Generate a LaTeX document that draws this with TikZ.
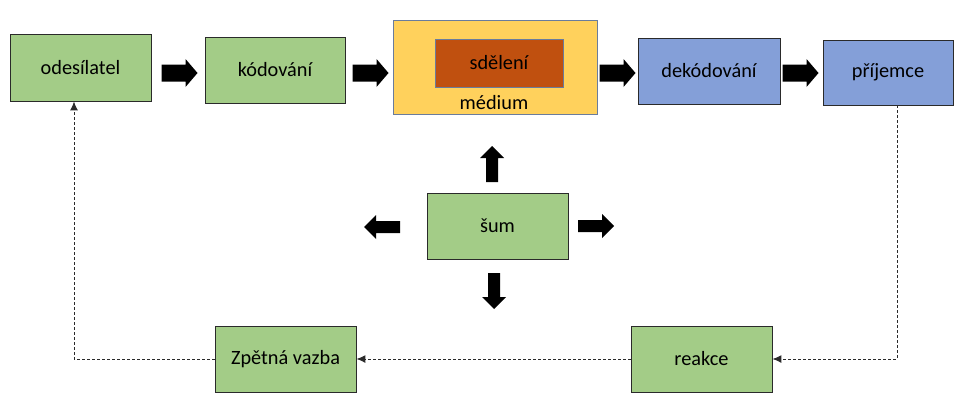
\documentclass[tikz,border=0pt]{standalone}
\usepackage{fontspec}
\setmainfont{Carlito}
\usetikzlibrary{arrows.meta}
\definecolor{boxgreen}{HTML}{A3CC87}
\definecolor{boxblue}{HTML}{849FD8}
\definecolor{boxyellow}{HTML}{FFD15C}
\definecolor{boxbrown}{HTML}{C0500F}
\definecolor{edgegray}{HTML}{2A2A2A}
\definecolor{edgeblue}{HTML}{6A7C9C}
\tikzset{
  box/.style={draw=edgegray, line width=0.9pt, minimum width=141pt, minimum height=66pt, inner sep=0pt, font=\fontsize{20.3}{24}\selectfont},
  greenbox/.style={box, fill=boxgreen},
  bluebox/.style={box, fill=boxblue},
  fb/.style={draw=edgegray, line width=1pt, dash pattern=on 3pt off 2pt, -{Latex[length=9pt,width=8pt]}},
  bigarrow/.pic={\fill[black] (-18,-8.5) -- (6,-8.5) -- (6,-14) -- (18,0) -- (6,14) -- (6,8.5) -- (-18,8.5) -- cycle;},
  smallarrow/.pic={\fill[black] (-18,-6) -- (6,-6) -- (6,-12) -- (18,0) -- (6,12) -- (6,6) -- (-18,6) -- cycle;}
}
\begin{document}
\begin{tikzpicture}[x=1pt,y=-1pt]
\useasboundingbox (0,0) rectangle (955,394);
% top row
\node[greenbox, minimum height=67pt] (odes) at (80.5,67.5) {odesílatel};
\node[greenbox, minimum width=140pt] (kod) at (275,70) {kódování};
\node[box, fill=boxyellow, draw=edgeblue, minimum width=204pt, minimum height=94pt] (med) at (495,67) {};
\node[box, fill=boxbrown, draw=edgeblue, minimum width=128pt, minimum height=48pt] (sdel) at (499,63) {sdělení};
\node[font=\fontsize{20.3}{24}\selectfont, inner sep=0pt] (medlab) at (494,103) {médium};
\node[bluebox, minimum width=142pt] (dek) at (709,71) {dekódování};
\node[bluebox, minimum width=130pt, minimum height=65pt] (prij) at (888,72.5) {příjemce};
% noise
\node[greenbox] (sum) at (497.5,226) {šum};
% bottom row
\node[greenbox] (zv) at (285.5,359) {Zpětná vazba};
\node[greenbox] (reak) at (701.5,359) {reakce};
% block arrows
\pic at (179.5,73) {bigarrow};
\pic at (370.5,73) {bigarrow};
\pic at (617.5,73) {bigarrow};
\pic at (800.5,73) {bigarrow};
\pic[rotate=90] at (492,164) {smallarrow};
\pic[rotate=-90] at (494,291) {smallarrow};
\pic[rotate=180] at (382,227) {smallarrow};
\pic at (596,226) {smallarrow};
% feedback loop
\draw[fb] ([xshift=9pt]prij.south) |- (reak.east);
\draw[fb] (reak.west) -- (zv.east);
\draw[fb] (zv.west) -| ([xshift=-6.5pt]odes.south);
\end{tikzpicture}
\end{document}
